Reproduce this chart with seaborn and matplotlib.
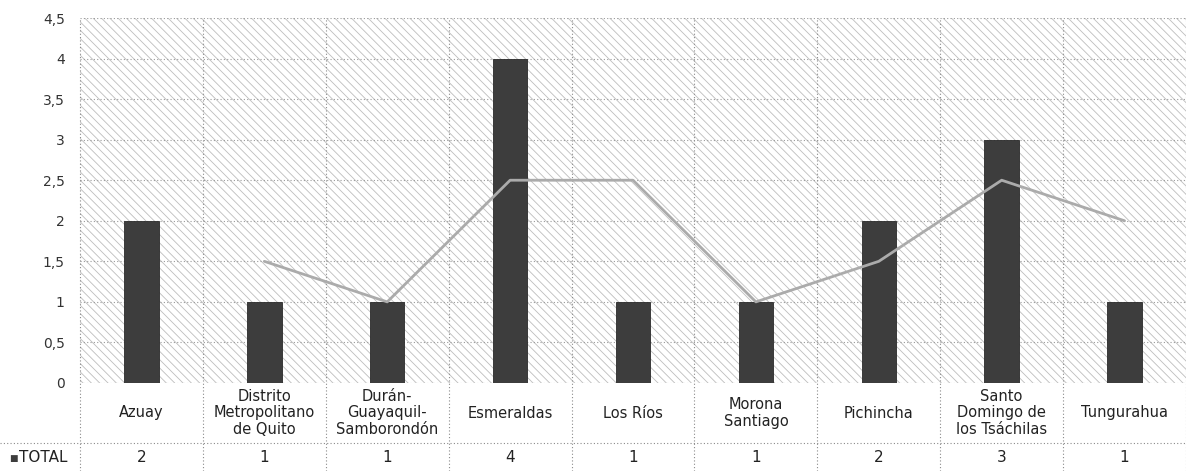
import numpy as np
import matplotlib
matplotlib.use("Agg")
import matplotlib.pyplot as plt
import matplotlib.transforms as mtransforms
from matplotlib.patches import Rectangle
from matplotlib.ticker import FuncFormatter
import seaborn as sns

# data
provincias = ["Azuay", "Distrito\nMetropolitano\nde Quito", "Durán-\nGuayaquil-\nSamborondón",
              "Esmeraldas", "Los Ríos", "Morona\nSantiago", "Pichincha",
              "Santo\nDomingo de\nlos Tsáchilas", "Tungurahua"]
total = [2, 1, 1, 4, 1, 1, 2, 3, 1]
# trend line (moving average as drawn in the picture)
tendencia = [np.nan, 1.5, 1, 2.5, 2.5, 1, 1.5, 2.5, 2]

sns.set_style("white")
plt.rcParams["font.family"] = ["DejaVu Sans"]
plt.rcParams["hatch.linewidth"] = 0.6
plt.rcParams["hatch.color"] = "#bdbdbd"

fig = plt.figure(figsize=(11.86, 4.71), dpi=100)
ax = fig.add_axes([80 / 1186, 88 / 471, 1106 / 1186, 365 / 471])

# textured background of the plot area
bg = Rectangle((0, 0), 1, 1, transform=ax.transAxes, facecolor="white",
               edgecolor="#bdbdbd", hatch="\\\\\\\\", lw=0, zorder=0)
ax.add_patch(bg)

x = np.arange(len(total))
sns.barplot(x=x, y=total, color="#3d3d3d", width=0.28, saturation=1,
            edgecolor="#2a2a2a", linewidth=0.6, ax=ax, zorder=3)
sns.lineplot(x=x, y=tendencia, color="#ababab", linewidth=2, ax=ax, zorder=4)

ax.set_xlim(-0.5, len(total) - 0.5)
ax.set_ylim(0, 4.5)
ax.set_yticks(np.arange(0, 4.51, 0.5))
ax.yaxis.set_major_formatter(FuncFormatter(lambda v, p: ("%g" % v).replace(".", ",")))
ax.tick_params(axis="y", length=0, labelsize=10, colors="#333333", pad=11)
ax.tick_params(axis="x", length=0, labelbottom=False)
ax.set_xlabel("")
ax.set_ylabel("")
for s in ax.spines.values():
    s.set_visible(False)

# dotted grid
for v in np.arange(0, 4.51, 0.5):
    ax.axhline(v, color="#9a9a9a", lw=0.8, ls=(0, (1, 2)), zorder=1)

# data table below the plot
tr = mtransforms.blended_transform_factory(ax.transData, fig.transFigure)
for b in np.arange(-0.5, len(total), 1.0):
    ax.plot([b, b], [0, 1 - 18 / 471], transform=tr, color="#8a8a8a", lw=0.8,
            ls=(0, (1, 2)), clip_on=False, zorder=1)
ax.plot([0, 1], [1 - 443 / 471] * 2, transform=fig.transFigure, color="#8a8a8a",
        lw=0.8, ls=(0, (1, 2)), clip_on=False)

for i, (nombre, t) in enumerate(zip(provincias, total)):
    ax.text(i, 1 - 413 / 471, nombre, transform=tr, ha="center", va="center",
            fontsize=10.5, color="#222222", linespacing=1.15)
    ax.text(i, 1 - 458 / 471, str(t), transform=tr, ha="center", va="center",
            fontsize=11, color="#222222")

fig.text(9 / 1186, 1 - 458 / 471, "■", fontsize=6.5, color="#3d3d3d", va="center")
fig.text(19 / 1186, 1 - 458 / 471, "TOTAL", fontsize=11, color="#222222", va="center")

fig.savefig("out.png", dpi=100)
